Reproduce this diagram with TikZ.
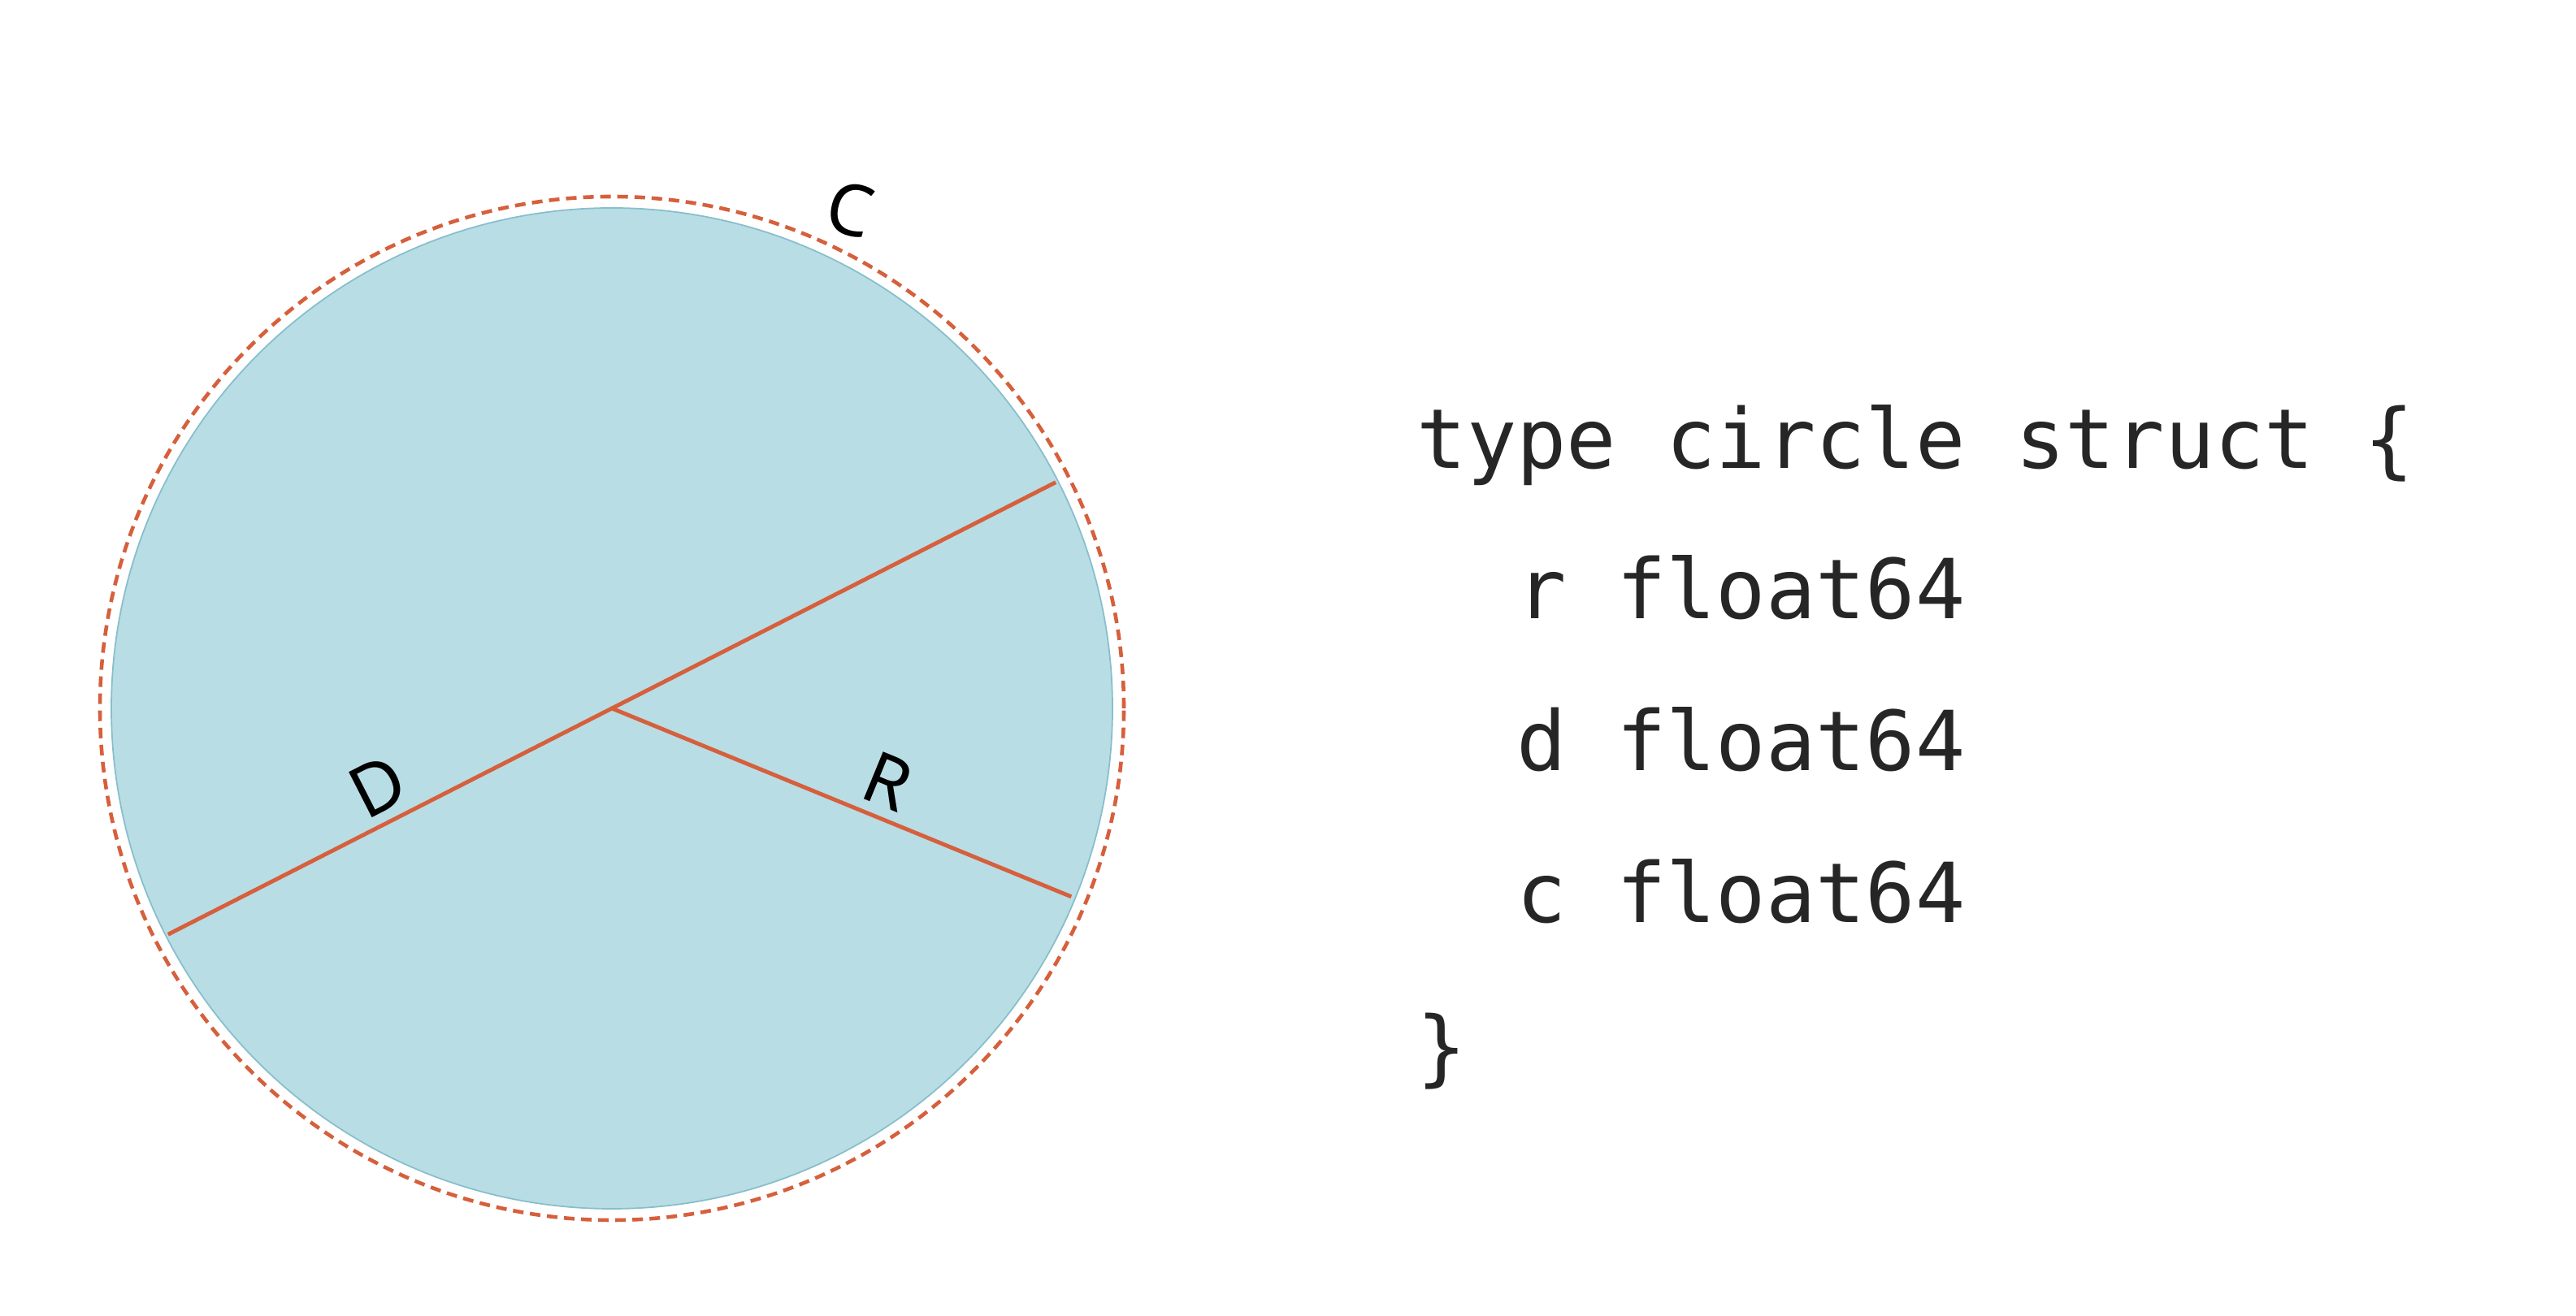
\documentclass[tikz,border=0pt]{standalone}
\usepackage{fontspec}
\setmainfont{Noto Sans}
\setmonofont{DejaVu Sans Mono}
\usetikzlibrary{calc}
\definecolor{discblue}{HTML}{B9DDE4}
\definecolor{discedge}{HTML}{86BFCB}
\definecolor{measred}{HTML}{D65F3C}
\definecolor{codegray}{HTML}{262626}
\tikzset{
  measure/.style={draw=measred, line width=1.4pt},
  measlabel/.style={font=\fontsize{25}{29}\selectfont, text=black, sloped, above},
  codeline/.style={anchor=base west, inner sep=0pt, text=codegray,
    font=\ttfamily\fontsize{29}{35}\selectfont}
}
\begin{document}
\begin{tikzpicture}
    \useasboundingbox[fill=white] (0,0) rectangle (31.7,16.2);
    % Circle with its measures
    \coordinate (O) at (7.53,7.48);
    \fill[discblue, draw=discedge, line width=0.5pt] (O) circle (6.16);
    \draw[measure, line width=1.3pt, dash pattern=on 3.7pt off 2.3pt] (O) circle (6.3);
    \coordinate (Dl) at ($(O)+(207:6.13)$);
    \coordinate (Dr) at ($(O)+(27:6.13)$);
    \coordinate (Rend) at ($(O)+(-22.3:6.11)$);
    \draw[measure] (Dl) -- node[measlabel, pos=0.255] (dlabel) {D} (Dr);
    \draw[measure] (O) -- node[measlabel, pos=0.57] (rlabel) {R} (Rend);
    \node[font=\fontsize{25}{29}\selectfont, rotate=-14] (clabel) at ($(O)+(64.5:6.8)$) {C};
    % Struct definition
    \node[codeline] (head) at (17.43,10.43) {type circle struct \{};
    \node[codeline] (fieldr) at (17.43,8.58) {~~r float64};
    \node[codeline] (fieldd) at (17.43,6.71) {~~d float64};
    \node[codeline] (fieldc) at (17.43,4.84) {~~c float64};
    \node[codeline] (tail) at (17.43,2.95) {\}};
\end{tikzpicture}
\end{document}
